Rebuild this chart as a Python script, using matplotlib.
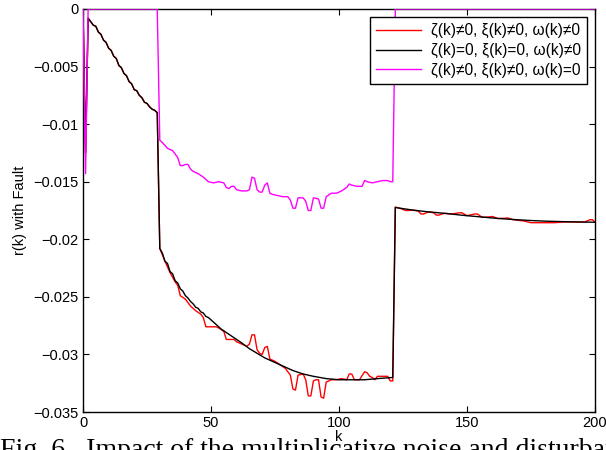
import matplotlib
matplotlib.use("Agg")
import matplotlib.pyplot as plt

plt.rcParams['font.family'] = ['Liberation Sans', 'DejaVu Sans']

# ---------------- data ----------------
# zeta!=0, xi!=0, omega!=0  (red)
red_k = [0, 1, 2, 3, 4, 5, 6, 7, 8, 9, 10, 11, 12, 13, 14, 15, 16, 17, 18, 19, 20,
         21, 22, 23, 24, 25, 26, 27, 28, 29,
         30, 32, 34, 36, 37, 38, 40, 42, 44, 46, 47, 48, 52, 53, 55, 56, 59, 60, 62,
         64, 65, 66, 67, 68, 69, 70, 71, 72, 73, 75, 77, 79, 81, 82, 83, 84, 86, 87,
         88, 89, 90, 91, 92, 93, 94, 95, 97, 99, 101, 103, 104, 105, 106, 108, 110,
         111, 112, 113, 114, 115, 117, 119, 120, 121,
         122, 124, 126, 127, 129, 131, 132, 133, 135, 137, 138, 139, 141, 144, 147,
         148, 150, 153, 154, 156, 159, 160, 162, 165, 166, 168, 172, 175, 184, 188,
         192, 196, 198, 199, 200]
red_v = [0.0, -0.0125, -0.0008, -0.0011, -0.0014, -0.0015, -0.0020, -0.0022, -0.0027,
         -0.0029, -0.0034, -0.0036, -0.0041, -0.0043, -0.0049, -0.0051, -0.0056,
         -0.0058, -0.0063, -0.0065, -0.0070, -0.0071, -0.0075, -0.0077, -0.0081,
         -0.0082, -0.0085, -0.0087, -0.0088, -0.0090,
         -0.0208, -0.0219, -0.0229, -0.0237, -0.0240, -0.0249, -0.0252, -0.0258,
         -0.0262, -0.0265, -0.0268, -0.0276, -0.0276, -0.0277, -0.0280, -0.0287,
         -0.0287, -0.0289, -0.0291, -0.0293, -0.0291, -0.0283, -0.0283, -0.0296,
         -0.0299, -0.0300, -0.0294, -0.0293, -0.0304, -0.0306, -0.0309, -0.0312,
         -0.0318, -0.0330, -0.0331, -0.0318, -0.0317, -0.0322, -0.0336, -0.0336,
         -0.0323, -0.0322, -0.0322, -0.0337, -0.0338, -0.0324, -0.0322, -0.0322,
         -0.0321, -0.0322, -0.0317, -0.0317, -0.0322, -0.0322, -0.0315, -0.0316,
         -0.0319, -0.0320, -0.0322, -0.0319, -0.0319, -0.0319, -0.0323, -0.0323,
         -0.01720, -0.01732, -0.01750, -0.01750, -0.01747, -0.01755, -0.01780,
         -0.01780, -0.01762, -0.01770, -0.01790, -0.01790, -0.01775, -0.01780,
         -0.01770, -0.01770, -0.01795, -0.01780, -0.01780, -0.01810, -0.01805,
         -0.01802, -0.01820, -0.01817, -0.01815, -0.01830, -0.01840, -0.01856,
         -0.01856, -0.01850, -0.01850, -0.01850, -0.01830, -0.01830, -0.01850]

# zeta=0, xi=0, omega!=0  (black)
black_k = [0, 1, 2, 3, 4, 5, 6, 7, 8, 9, 10, 11, 12, 13, 14, 15, 16, 17, 18, 19, 20,
           21, 22, 23, 24, 25, 26, 27, 28, 29,
           30, 31, 32, 33, 34, 35, 36, 37, 38, 39, 40, 41, 42, 43, 44, 45, 46, 47,
           48, 49, 50, 52, 54, 56, 58, 60, 62, 65, 68, 71, 74, 78, 82, 86, 90, 95,
           100, 105, 110, 115, 121,
           122, 129, 135, 142, 148, 155, 161, 168, 174, 181, 190, 200]
black_v = [0.0, -0.0125, -0.0008, -0.0011, -0.0014, -0.0015, -0.0020, -0.0022, -0.0027,
           -0.0029, -0.0034, -0.0036, -0.0041, -0.0043, -0.0049, -0.0051, -0.0056,
           -0.0058, -0.0063, -0.0065, -0.0070, -0.0071, -0.0075, -0.0077, -0.0081,
           -0.0082, -0.0085, -0.0087, -0.0088, -0.0090,
           -0.0208, -0.0212, -0.0219, -0.0221, -0.0228, -0.0230, -0.0236, -0.0238,
           -0.0243, -0.0245, -0.0249, -0.0251, -0.0254, -0.0256, -0.0259, -0.0260,
           -0.0263, -0.0264, -0.0267, -0.0268, -0.0270, -0.0274, -0.0278, -0.0281,
           -0.0284, -0.0287, -0.0290, -0.0295, -0.0299, -0.0303, -0.0306, -0.0310,
           -0.0314, -0.0317, -0.0319, -0.0321, -0.0322, -0.0322, -0.0322, -0.0321,
           -0.0320,
           -0.01724, -0.01747, -0.01762, -0.01776, -0.01791, -0.01805, -0.01817,
           -0.01828, -0.01836, -0.01843, -0.01848, -0.01852]

# zeta!=0, xi!=0, omega=0  (magenta)
mag_k = [0, 1, 2, 29,
         30, 31, 33, 35, 36, 37, 38, 39, 40, 41, 42, 43, 45, 47, 49, 51, 53, 55, 56,
         57, 58, 59, 60, 62, 64, 65, 66, 67, 68, 69, 70, 71, 72, 73, 74, 76, 78, 80,
         81, 82, 83, 84, 86, 87, 88, 89, 90, 92, 93, 94, 95, 97, 99, 101, 103, 104,
         105, 107, 109, 110, 111, 113, 115, 117, 119, 120, 121,
         122, 200]
mag_v = [0.0, -0.0143, 0.0, 0.0,
         -0.0114, -0.0116, -0.0121, -0.0123, -0.0126, -0.0129, -0.0136, -0.0136,
         -0.0135, -0.0135, -0.0139, -0.0141, -0.0143, -0.0146, -0.0150, -0.0151,
         -0.0150, -0.0151, -0.0155, -0.0156, -0.0154, -0.0154, -0.0157, -0.0158,
         -0.0158, -0.0157, -0.0146, -0.0147, -0.0157, -0.0159, -0.0159, -0.0153,
         -0.0151, -0.0160, -0.0161, -0.0162, -0.0163, -0.0163, -0.0166, -0.0173,
         -0.0173, -0.0164, -0.0164, -0.0167, -0.0175, -0.0175, -0.0164, -0.0165,
         -0.0173, -0.0173, -0.0163, -0.0160, -0.0160, -0.0158, -0.0155, -0.0152,
         -0.0153, -0.0154, -0.0154, -0.0149, -0.0150, -0.0151, -0.0150, -0.0149,
         -0.0149, -0.0150, -0.0150,
         0.0, 0.0]

labels = ["ζ(k)≠0, ξ(k)≠0, ω(k)≠0",
          "ζ(k)=0, ξ(k)=0, ω(k)≠0",
          "ζ(k)≠0, ξ(k)≠0, ω(k)=0"]

x_ticks = [0, 50, 100, 150, 200]
y_ticks = [0, -0.005, -0.01, -0.015, -0.02, -0.025, -0.03, -0.035]
y_ticklabels = ["0", "\u22120.005", "\u22120.01", "\u22120.015", "\u22120.02",
                "\u22120.025", "\u22120.03", "\u22120.035"]

# ---------------- figure ----------------
fig = plt.figure(figsize=(6.06, 4.5), dpi=100)
ax = fig.add_axes([83 / 606, 1 - 412 / 450, 512 / 606, 403 / 450])

ax.plot(red_k, red_v, color=(1, 0, 0), lw=1.0, label=labels[0], zorder=3)
ax.plot(black_k, black_v, color='black', lw=1.0, label=labels[1], zorder=3)
ax.plot(mag_k, mag_v, color=(1, 0, 1), lw=1.0, label=labels[2], zorder=3)

ax.set_xlim(0, 200)
ax.set_ylim(-0.035, 0)
ax.set_xticks(x_ticks)
ax.set_xticklabels([str(t) for t in x_ticks])
ax.set_yticks(y_ticks)
ax.set_yticklabels(y_ticklabels)
ax.tick_params(direction='in', length=4, width=0.8, top=True, right=True,
               labelsize=10.5, pad=3, colors='black')
for s in ax.spines.values():
    s.set_linewidth(1.0)
    s.set_color('black')

ax.set_xlabel("k", fontsize=10.5, labelpad=0)
ax.set_ylabel("r(k) with Fault", fontsize=10.5, labelpad=5)

leg = ax.legend(loc='upper right', bbox_to_anchor=(0.984, 0.98), borderaxespad=0,
                fontsize=11.2, fancybox=False, framealpha=1, edgecolor='black',
                handlelength=2.9, handletextpad=0.6, borderpad=0.4,
                labelspacing=0.3)
leg.get_frame().set_linewidth(1.0)

fig.text(0.0, 1 - 438 / 450, "Fig. 6.  Impact of the multiplicative noise and disturbance",
         family=['Liberation Serif', 'DejaVu Serif'], fontsize=20, va='top', ha='left')

fig.savefig("out.png", dpi=100)
